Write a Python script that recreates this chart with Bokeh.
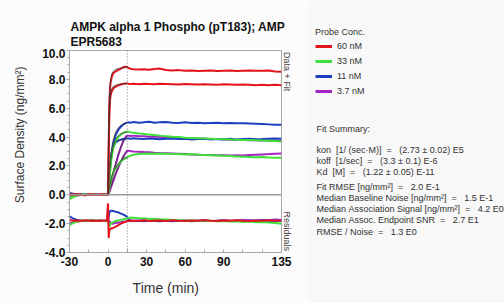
from bokeh.plotting import figure
from bokeh.layouts import row, column
from bokeh.models import (Label, Span, Legend, LegendItem, FixedTicker, Range1d, Title,
                          PrintfTickFormatter)
from bokeh.embed import file_html
from bokeh.resources import INLINE

# ---------------- data ----------------
t = [-30, -27, -24, -21, -18, -15, -12, -9, -6, -3, -1, 0,
     0.5, 1, 1.5, 2, 3, 4, 5, 6, 8, 10, 12, 14, 15,
     16, 18, 20, 24, 28, 32, 36, 40, 45, 50, 55, 60, 65, 70, 75, 80, 85, 90, 95,
     100, 105, 110, 115, 120, 125, 130, 135]

red_hi = [0.05, -0.02, 0.03, 0.0, -0.03, 0.04, 0.0, -0.02, 0.03, 0.0, 0.02, 0.0,
          3.5, 6.2, 7.3, 7.8, 8.2, 8.4, 8.5, 8.55, 8.65, 8.75, 8.85, 8.88, 8.85,
          8.8, 8.72, 8.7, 8.68, 8.7, 8.66, 8.72, 8.75, 8.65, 8.62, 8.64, 8.6, 8.62, 8.58,
          8.6, 8.62, 8.58, 8.6, 8.62, 8.58, 8.6, 8.62, 8.6, 8.6, 8.62, 8.55, 8.52]
red_lo = [-0.02, 0.03, 0.0, 0.02, -0.03, 0.0, 0.03, -0.02, 0.0, 0.02, -0.01, 0.0,
          2.8, 5.5, 6.5, 6.9, 7.2, 7.35, 7.45, 7.5, 7.58, 7.64, 7.7, 7.72, 7.72,
          7.7, 7.68, 7.7, 7.66, 7.7, 7.68, 7.66, 7.7, 7.68, 7.66, 7.64, 7.68, 7.66, 7.64,
          7.66, 7.65, 7.62, 7.66, 7.64, 7.62, 7.64, 7.62, 7.6, 7.62, 7.6, 7.62, 7.6]
blue_hi = [0.12, 0.08, 0.05, 0.02, 0.03, -0.02, 0.0, 0.02, -0.01, 0.01, 0.0, 0.0,
           0.5, 1.2, 1.8, 2.3, 3.0, 3.5, 3.85, 4.15, 4.5, 4.72, 4.88, 4.98, 5.0,
           5.02, 5.0, 5.04, 5.0, 5.02, 5.06, 5.0, 5.02, 5.05, 5.0, 4.98, 5.02, 4.98, 5.0,
           4.96, 4.98, 5.0, 4.96, 4.98, 4.95, 4.96, 4.94, 4.92, 4.9, 4.88, 4.86, 4.86]
blue_lo = [0.05, 0.02, 0.0, 0.03, -0.02, 0.0, 0.02, -0.01, 0.0, 0.02, 0.0, 0.0,
           0.6, 1.3, 1.9, 2.4, 2.95, 3.3, 3.5, 3.62, 3.75, 3.82, 3.87, 3.9, 3.9,
           3.9, 3.88, 3.92, 3.88, 3.86, 3.9, 3.88, 3.85, 3.88, 3.9, 3.86, 3.88, 3.84, 3.86,
           3.88, 3.84, 3.86, 3.85, 3.88, 3.84, 3.86, 3.88, 3.85, 3.86, 3.88, 3.9, 3.88]
green_hi = [-0.3, -0.15, -0.05, 0.0, 0.03, -0.02, 0.02, 0.0, -0.02, 0.01, 0.0, 0.0,
            0.4, 1.0, 1.5, 2.0, 2.7, 3.2, 3.5, 3.75, 4.0, 4.18, 4.3, 4.36, 4.38,
            4.36, 4.32, 4.3, 4.25, 4.22, 4.18, 4.15, 4.1, 4.06, 4.02, 4.0, 3.96, 3.94, 3.92,
            3.9, 3.88, 3.86, 3.85, 3.84, 3.82, 3.8, 3.8, 3.78, 3.76, 3.74, 3.72, 3.7]
green_lo = [-0.25, -0.1, 0.0, 0.02, -0.02, 0.0, 0.03, -0.01, 0.0, 0.02, 0.0, 0.0,
            0.2, 0.45, 0.7, 0.9, 1.25, 1.5, 1.7, 1.85, 2.1, 2.3, 2.45, 2.55, 2.6,
            2.65, 2.72, 2.78, 2.82, 2.85, 2.86, 2.84, 2.86, 2.84, 2.82, 2.83, 2.8, 2.82, 2.78,
            2.76, 2.74, 2.72, 2.7, 2.68, 2.66, 2.64, 2.62, 2.6, 2.62, 2.58, 2.56, 2.56]
purple_hi = [-0.2, -0.1, -0.05, 0.0, 0.02, 0.0, -0.02, 0.01, 0.0, 0.0, 0.0, 0.0,
             0.15, 0.35, 0.55, 0.75, 1.1, 1.45, 1.8, 2.1, 2.75, 3.3, 3.75, 4.05, 4.1,
             4.1, 4.08, 4.1, 4.06, 4.05, 4.02, 4.04, 4.0, 3.98, 3.96, 3.94, 3.92, 3.9, 3.9,
             3.88, 3.86, 3.86, 3.84, 3.82, 3.8, 3.8, 3.78, 3.78, 3.76, 3.76, 3.74, 3.74]
purple_lo = [-0.1, -0.05, 0.0, 0.02, 0.0, -0.02, 0.0, 0.01, 0.0, 0.0, 0.0, 0.0,
             0.1, 0.2, 0.3, 0.45, 0.7, 0.95, 1.2, 1.45, 1.9, 2.3, 2.65, 2.95, 3.05,
             3.05, 3.02, 3.0, 2.98, 2.96, 2.95, 2.92, 2.9, 2.88, 2.86, 2.84, 2.82, 2.8, 2.78,
             2.76, 2.76, 2.74, 2.74, 2.72, 2.74, 2.72, 2.76, 2.78, 2.8, 2.82, 2.85, 2.86]

# residuals (displayed offset below the data)
res_red = [-1.75, -1.8, -1.78, -1.82, -1.76, -1.8, -1.78, -1.82, -1.78, -1.8, -1.8, -0.6,
           -3.0, -2.45, -2.4, -2.35, -2.32, -2.3, -2.25, -2.2, -2.1, -2.0, -1.92, -1.86, -1.82,
           -1.8, -1.78, -1.82, -1.8, -1.76, -1.82, -1.8, -1.78, -1.82, -1.76, -1.8, -1.82, -1.78,
           -1.8, -1.76, -1.8, -1.82, -1.78, -1.8, -1.76, -1.8, -1.82, -1.78, -1.8, -1.76, -1.8, -1.78]
res_blue = [-1.5, -1.65, -1.75, -1.78, -1.82, -1.8, -1.78, -1.8, -1.82, -1.8, -1.8, -1.8,
            -1.5, -1.25, -1.15, -1.1, -1.1, -1.12, -1.15, -1.18, -1.22, -1.3, -1.38, -1.48, -1.55,
            -1.72, -1.8, -1.82, -1.8, -1.78, -1.82, -1.8, -1.84, -1.8, -1.78, -1.82, -1.8, -1.84,
            -1.8, -1.78, -1.82, -1.8, -1.78, -1.82, -1.8, -1.84, -1.8, -1.82, -1.78, -1.8, -1.82, -1.8]
res_green = [-2.1, -1.95, -1.85, -1.8, -1.78, -1.82, -1.76, -1.8, -1.78, -1.82, -1.8, -1.8,
             -2.0, -2.2, -2.1, -2.0, -1.95, -1.9, -1.85, -1.82, -1.78, -1.74, -1.7, -1.66, -1.62,
             -1.6, -1.58, -1.6, -1.62, -1.64, -1.66, -1.68, -1.7, -1.72, -1.74, -1.76, -1.78, -1.76,
             -1.8, -1.82, -1.8, -1.84, -1.82, -1.86, -1.84, -1.88, -1.86, -1.9, -1.88, -1.92, -1.95, -2.0]
res_purple = [-2.0, -1.9, -1.85, -1.82, -1.8, -1.78, -1.82, -1.8, -1.78, -1.8, -1.8, -1.8,
              -1.8, -1.82, -1.88, -1.95, -2.0, -2.0, -1.98, -1.96, -1.92, -1.9, -1.86, -1.84, -1.82,
              -1.8, -1.82, -1.78, -1.8, -1.84, -1.8, -1.78, -1.82, -1.8, -1.84, -1.8, -1.78, -1.82,
              -1.8, -1.78, -1.82, -1.8, -1.76, -1.8, -1.78, -1.74, -1.76, -1.78, -1.74, -1.76, -1.72, -1.74]

# fitted curves (association phase)
t_fit = [0, 0.5, 1, 2, 3, 4, 6, 8, 10, 12, 15]
fit_red_hi = [0, 4.5, 6.8, 8.0, 8.4, 8.55, 8.7, 8.75, 8.78, 8.8, 8.82]
fit_red_lo = [0, 3.8, 5.9, 7.0, 7.35, 7.5, 7.6, 7.65, 7.68, 7.7, 7.72]
fit_blue_hi = [0, 0.8, 1.5, 2.6, 3.3, 3.8, 4.35, 4.65, 4.82, 4.92, 4.98]
fit_blue_lo = [0, 0.8, 1.5, 2.5, 3.05, 3.35, 3.65, 3.78, 3.84, 3.87, 3.9]
fit_green_hi = [0, 0.6, 1.2, 2.2, 2.9, 3.35, 3.85, 4.1, 4.22, 4.3, 4.35]
fit_green_lo = [0, 0.25, 0.5, 0.95, 1.3, 1.55, 1.9, 2.15, 2.35, 2.5, 2.62]
fit_purple_hi = [0, 0.2, 0.4, 0.8, 1.2, 1.55, 2.2, 2.8, 3.3, 3.7, 4.05]
fit_purple_lo = [0, 0.12, 0.25, 0.5, 0.75, 1.0, 1.5, 1.95, 2.35, 2.7, 3.05]

concs = ["60 nM", "33 nM", "11 nM", "3.7 nM"]
x_ticks = [-30, 0, 30, 60, 90, 135]
x_minor = [-15, 15, 45, 75, 105, 120]
y_ticks = [-4, -2, 0, 2, 4, 6, 8, 10]
y_minor = [v / 2 for v in range(-8, 21)]
dissoc_start = 15

title_lines = ["AMPK alpha 1 Phospho (pT183); AMP", "EPR5683"]
summary_head = "Fit Summary:"
summary_lines = [
    "kon  [1/ (sec\u00b7M)]  =   (2.73 \u00b1 0.02) E5",
    "koff  [1/sec]  =   (3.3 \u00b1 0.1) E-6",
    "Kd  [M]  =   (1.22 \u00b1 0.05) E-11",
]
stats_lines = [
    "Fit RMSE [ng/mm\u00b2]  =   2.0 E-1",
    "Median Baseline Noise [ng/mm\u00b2]  =   1.5 E-1",
    "Median Association Signal [ng/mm\u00b2]  =   4.2 E0",
    "Median Assoc. Endpoint SNR  =   2.7 E1",
    "RMSE / Noise  =   1.3 E0",
]

RED, GREEN, BLUE, PURPLE = "#e3141b", "#3fe03a", "#1c3fbf", "#a623c4"
FONT = "Liberation Sans"
NB = "\u00a0"
GRAY = "#a8a8a8"
BG = "#fbfbfb"

# ---------------- title strip ----------------
h = figure(width=308, height=48, output_backend="svg", toolbar_location=None,
           x_range=Range1d(0, 308), y_range=Range1d(48, 0), title=None,
           min_border_left=0, min_border_right=0, min_border_top=0, min_border_bottom=0,
           x_axis_type=None, y_axis_type=None)
h.frame_align = False
h.background_fill_color = BG
h.border_fill_color = BG
h.outline_line_color = None
h.xgrid.visible = False
h.ygrid.visible = False
for i, line in enumerate(title_lines):
    h.add_layout(Label(x=70, y=26.7 + 15 * i, text=line, text_font=FONT,
                       text_font_size="12px", text_font_style="bold", text_color="#111111",
                       text_align="left", text_baseline="alphabetic"))

# ---------------- main chart ----------------
p = figure(width=308, height=255, output_backend="svg", toolbar_location=None,
           x_range=Range1d(-30, 135), y_range=Range1d(-4, 10), title=None,
           min_border_left=69, min_border_right=27, min_border_top=2, min_border_bottom=51)
p.frame_align = False
p.background_fill_color = "#ffffff"
p.border_fill_color = BG
p.outline_line_color = GRAY
p.xgrid.visible = False
p.ygrid.visible = False

xa = p.xaxis[0]
xa.ticker = FixedTicker(ticks=x_ticks, minor_ticks=x_minor)
xa.formatter = PrintfTickFormatter(format="%d")
xa.major_label_text_font = FONT
xa.major_label_text_font_style = "bold"
xa.major_label_text_font_size = "12px"
xa.major_label_text_color = "#111111"
xa.major_tick_in = 3
xa.major_tick_out = 0
xa.minor_tick_in = 3
xa.minor_tick_out = 0
xa.major_label_standoff = 4
xa.axis_line_color = GRAY
xa.major_tick_line_color = GRAY
xa.minor_tick_line_color = GRAY
xa.axis_label = "Time (min)" + NB * 5
xa.axis_label_text_font = FONT
xa.axis_label_text_font_size = "14px"
xa.axis_label_text_font_style = "normal"
xa.axis_label_text_color = "#333333"
xa.axis_label_standoff = 11

ya = p.yaxis[0]
ya.ticker = FixedTicker(ticks=y_ticks, minor_ticks=y_minor)
ya.formatter = PrintfTickFormatter(format="%.1f")
ya.major_label_text_font = FONT
ya.major_label_text_font_style = "bold"
ya.major_label_text_font_size = "12px"
ya.major_label_text_color = "#111111"
ya.major_tick_in = 0
ya.major_tick_out = 3
ya.minor_tick_in = 0
ya.minor_tick_out = 2
ya.major_label_standoff = 1
ya.axis_line_color = GRAY
ya.major_tick_line_color = GRAY
ya.minor_tick_line_color = GRAY
ya.axis_label = NB * 10 + "Surface Density (ng/mm\u00b2)"
ya.axis_label_text_font = FONT
ya.axis_label_text_font_size = "12px"
ya.axis_label_text_font_style = "normal"
ya.axis_label_text_color = "#333333"
ya.axis_label_standoff = 12

p.add_layout(Title(text="Data + Fit" + NB * 48 + "Residuals", align="center", standoff=1,
                   text_font=FONT, text_font_size="9px", text_font_style="normal",
                   text_color="#4a4444"), "right")

p.add_layout(Span(location=0, dimension="width", line_color="#9a9a9a", line_width=1.5))
p.add_layout(Span(location=dissoc_start, dimension="height", line_color="#777777",
                  line_width=1, line_dash="1 2"))

series = [
    (PURPLE, purple_hi, purple_lo, res_purple, fit_purple_hi, fit_purple_lo),
    (BLUE, blue_hi, blue_lo, res_blue, fit_blue_hi, fit_blue_lo),
    (GREEN, green_hi, green_lo, res_green, fit_green_hi, fit_green_lo),
    (RED, red_hi, red_lo, res_red, fit_red_hi, fit_red_lo),
]
for col, hi, lo, res, fhi, flo in series:
    p.line(t, res, line_color=col, line_width=2)
    p.line(t, hi, line_color=col, line_width=2)
    p.line(t, lo, line_color=col, line_width=2)
    p.line(t_fit, fhi, line_color="#333333", line_width=1, line_alpha=0.75)
    p.line(t_fit, flo, line_color="#333333", line_width=1, line_alpha=0.75)

# ---------------- side panel: legend + fit summary ----------------
s = figure(width=196, height=303, output_backend="svg", toolbar_location=None,
           x_range=Range1d(0, 196), y_range=Range1d(303, 0), title=None,
           min_border_left=0, min_border_right=0, min_border_top=0, min_border_bottom=0,
           x_axis_type=None, y_axis_type=None)
s.frame_align = False
s.background_fill_color = "#f8f8f8"
s.border_fill_color = "#f8f8f8"
s.outline_line_color = None
s.xgrid.visible = False
s.ygrid.visible = False

nan = float("nan")
items = []
for label, col in zip(concs, [RED, GREEN, BLUE, PURPLE]):
    r = s.line(x=[nan], y=[nan], line_color=col, line_width=3)
    items.append(LegendItem(label=label, renderers=[r]))
legend = Legend(items=items, location=(7, 206), title="Probe Conc.",
                title_text_font=FONT, title_text_font_size="9px", title_text_font_style="normal",
                title_text_color="#333333", title_standoff=3,
                label_text_font=FONT, label_text_font_size="9px", label_text_color="#333333",
                label_height=12, glyph_height=12, glyph_width=17, label_standoff=5,
                spacing=3, padding=0, margin=0, border_line_color=None,
                background_fill_alpha=0)
s.add_layout(legend)


def lab(x, y, text):
    s.add_layout(Label(x=x, y=y, text=text.replace(" ", NB), text_font=FONT,
                       text_font_size="9px", text_color="#333333",
                       text_align="left", text_baseline="middle"))


SX = 8
lab(SX, 128, summary_head)
for i, line in enumerate(summary_lines):
    lab(SX, 149 + i * 11.3, line)
for i, line in enumerate(stats_lines):
    lab(SX, 186 + i * 11.3, line)

layout = row(column(h, p), s)
open("out.html", "w").write(file_html(layout, INLINE))
